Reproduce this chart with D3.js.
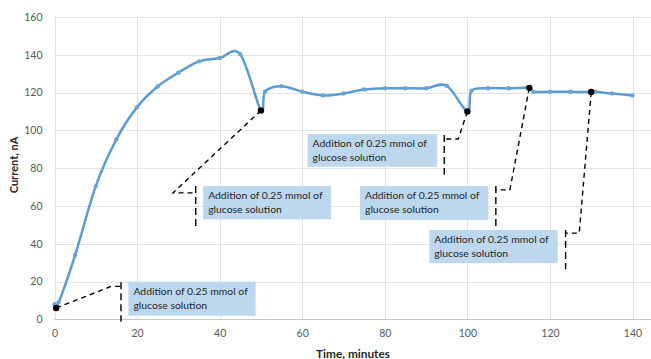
<!DOCTYPE html>
<html>
<head>
<meta charset="utf-8">
<script src="https://cdn.jsdelivr.net/npm/d3@7"></script>
<style>
  html, body { margin: 0; padding: 0; background: #fff; }
  svg { display: block; }
</style>
</head>
<body>
<svg id="chart" width="651" height="359"></svg>
<script>
// ---- data ----
const times    = [0, 1, 5, 10, 15, 20, 25, 30, 35, 40, 45, 50, 51, 55, 60, 65, 70, 75, 80, 85, 90, 95, 100, 101, 105, 110, 115, 116, 120, 125, 130, 131, 135, 140];
const currents = [8, 9, 34, 70.5, 95.3, 112.3, 123.2, 130.5, 136.5, 138.3, 140.3, 110.5, 120.5, 123.4, 120.5, 118.5, 119.5, 121.6, 122.3, 122.3, 122.3, 123.6, 110, 121, 122.3, 122.3, 122.5, 120.4, 120.4, 120.4, 120.3, 120.4, 119.5, 118.5];
const xTicks = [0, 20, 40, 60, 80, 100, 120, 140];
const yTicks = [0, 20, 40, 60, 80, 100, 120, 140, 160];
const xTitle = "Time, minutes";
const yTitle = "Current, nA";
const noteLines = ["Addition of 0.25 mmol of", "glucose solution"];
// annotation points (minutes, nA)
const dotX = [0.4, 50, 100, 115, 130];
const dotY = [6, 110.5, 110, 122.5, 120.3];
// callout elbows, accent bars, boxes (in data units)
const elbowX = [13.7, 28.7, 97.8, 110.3, 127.1];
const elbowY = [17.4, 66.9, 95.4, 68.5, 45.6];
const barX   = [16.1, 34.2, 94.4, 106.9, 123.8];
const barTop = [19.6, 70.6, 97.6, 70.6, 47.3];
const barBot = [-1.3, 49.4, 76.5, 49.4, 26.5];
const boxX0  = [17.9, 36.0, 61.3, 74.0, 90.8];
const boxX1  = [48.7, 67.0, 92.7, 105.1, 121.9];
const boxTop = [19.9, 70.6, 98.0, 70.6, 47.3];
const boxBot = [1.9, 52.9, 80.7, 52.6, 29.7];

// ---- layout ----
const W = 651, H = 359;
const svg = d3.select("#chart");
const x = d3.scaleLinear().domain([0, 140]).range([54.5, 632.5]);
const y = d3.scaleLinear().domain([0, 160]).range([319.3, 17]);
const plotRight = 651;
const FONT = "Lato, 'Open Sans', sans-serif";

// gridlines
const g = svg.append("g");
g.selectAll("line.h").data(yTicks.filter(d => d > 0)).join("line")
  .attr("x1", x(0)).attr("x2", plotRight)
  .attr("y1", d => Math.round(y(d)) + 0.5).attr("y2", d => Math.round(y(d)) + 0.5)
  .attr("stroke", "#e3e3e3").attr("stroke-width", 1);
g.selectAll("line.v").data(xTicks).join("line")
  .attr("y1", y(160)).attr("y2", y(0))
  .attr("x1", d => Math.round(x(d)) + 0.5).attr("x2", d => Math.round(x(d)) + 0.5)
  .attr("stroke", "#e3e3e3").attr("stroke-width", 1);

// x axis
const xAxis = d3.axisBottom(x).tickValues(xTicks).tickSize(0).tickPadding(10);
const xa = svg.append("g").attr("transform", `translate(0,${Math.round(y(0)) + 0.5})`).call(xAxis);
xa.select(".domain").attr("d", `M${x(0)},0H${plotRight}`).attr("stroke", "#c8c8c8");
xa.selectAll("text").attr("font-family", FONT).attr("font-size", 10.5).attr("fill", "#595959");

// y axis
const yAxis = d3.axisLeft(y).tickValues(yTicks).tickSize(0).tickPadding(12);
const ya = svg.append("g").attr("transform", `translate(${x(0)},0)`).call(yAxis);
ya.select(".domain").remove();
ya.selectAll("text").attr("font-family", FONT).attr("font-size", 10.5).attr("fill", "#595959");

// titles
svg.append("text").text(xTitle)
  .attr("x", 353).attr("y", 357.5).attr("text-anchor", "middle")
  .attr("font-family", FONT).attr("font-weight", "bold")
  .attr("font-size", 11.8).attr("fill", "#262626");
svg.append("text").text(yTitle)
  .attr("transform", "translate(18,165) rotate(-90)").attr("text-anchor", "middle")
  .attr("font-family", FONT).attr("font-weight", "bold")
  .attr("font-size", 11).attr("fill", "#262626");

// series
const pts = times.map((t, i) => [t, currents[i]]);
const line = d3.line().x(d => x(d[0])).y(d => y(d[1])).curve(d3.curveCardinal.tension(0));
svg.append("path").datum(pts).attr("d", line)
  .attr("fill", "none").attr("stroke", "#5b9bd5").attr("stroke-width", 2.5)
  .attr("stroke-linejoin", "round");
svg.selectAll("circle.m").data(pts).join("circle")
  .attr("cx", d => x(d[0])).attr("cy", d => y(d[1])).attr("r", 2.2)
  .attr("fill", "#6aa3d8");

// callouts
dotX.forEach((dx, i) => {
  svg.append("rect")
    .attr("x", x(boxX0[i])).attr("y", y(boxTop[i]))
    .attr("width", x(boxX1[i]) - x(boxX0[i])).attr("height", y(boxBot[i]) - y(boxTop[i]))
    .attr("fill", "#bdd7ee");
  const tx = svg.append("text")
    .attr("font-family", FONT).attr("font-size", 10.4).attr("fill", "#262626");
  noteLines.forEach((s, k) => {
    tx.append("tspan").text(s).attr("x", x(boxX0[i]) + 5).attr("y", y(boxTop[i]) + 12.8 + k * 14);
  });
  svg.append("path")
    .attr("d", `M${x(dx)},${y(dotY[i])}L${x(elbowX[i])},${y(elbowY[i])}L${x(barX[i])},${y(elbowY[i])}`)
    .attr("fill", "none").attr("stroke", "#000").attr("stroke-width", 1.4).attr("stroke-dasharray", "5,4");
  svg.append("line")
    .attr("x1", x(barX[i])).attr("x2", x(barX[i]))
    .attr("y1", y(barTop[i])).attr("y2", y(barBot[i]))
    .attr("stroke", "#000").attr("stroke-width", 1.4).attr("stroke-dasharray", "7,4");
  svg.append("circle").attr("cx", x(dx)).attr("cy", y(dotY[i])).attr("r", 3.2).attr("fill", "#000");
});
</script>
</body>
</html>
